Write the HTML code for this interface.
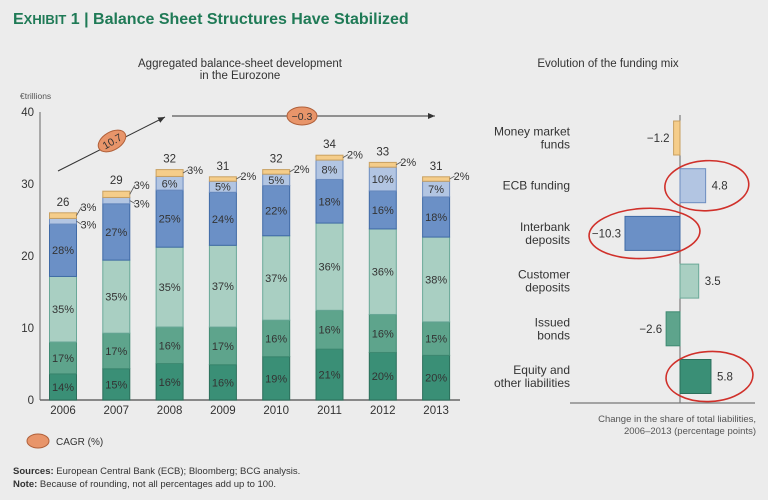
<!DOCTYPE html>
<html><head><meta charset="utf-8"><style>
body{margin:0;background:#ececec;}
svg{display:block;font-family:"Liberation Sans",sans-serif;}
</style></head><body>
<svg id="s" width="768" height="500" viewBox="0 0 768 500">
<rect width="768" height="500" fill="#ececec"/>
<text x="13" y="24" font-size="16" font-weight="bold" fill="#1f7a56"><tspan font-size="16">E</tspan><tspan font-size="13">XHIBIT</tspan> 1 | Balance Sheet Structures Have Stabilized</text>
<text x="240" y="67" font-size="11.5" fill="#333" text-anchor="middle">Aggregated balance-sheet development</text>
<text x="240" y="79" font-size="11.5" fill="#333" text-anchor="middle">in the Eurozone</text>
<text x="608" y="67" font-size="11.5" fill="#333" text-anchor="middle">Evolution of the funding mix</text>
<text x="20" y="99" font-size="8.5" fill="#555">€trillions</text>
<g id="left"></g><g id="right"></g>
<ellipse cx="38" cy="441" rx="11" ry="7" fill="#e8956a" stroke="#b0603a"/>
<text x="56" y="445" font-size="10" fill="#333">CAGR (%)</text>
<text x="13" y="474" font-size="9.5" fill="#333"><tspan font-weight="bold">Sources:</tspan> European Central Bank (ECB); Bloomberg; BCG analysis.</text>
<text x="13" y="487" font-size="9.5" fill="#333"><tspan font-weight="bold">Note:</tspan> Because of rounding, not all percentages add up to 100.</text>
</svg>
<script>
const years=["2006","2007","2008","2009","2010","2011","2012","2013"];
const totals=[26,29,32,31,32,34,33,31];
const equity=[14,15,16,16,19,21,20,20];
const bonds=[17,17,16,17,16,16,16,15];
const customer=[35,35,35,37,37,36,36,38];
const interbank=[28,27,25,24,22,18,16,18];
const ecb=[3,3,6,5,5,8,10,7];
const mmf=[3,3,3,2,2,2,2,2];
const yTicks=[0,10,20,30,40];
const mixCats=[["Money market","funds"],["ECB funding"],["Interbank","deposits"],["Customer","deposits"],["Issued","bonds"],["Equity and","other liabilities"]];
const mixVals=[-1.2,4.8,-10.3,3.5,-2.6,5.8];
const mixLabels=["−1.2","4.8","−10.3","3.5","−2.6","5.8"];
const circled=[false,true,true,false,false,true];

const NS="http://www.w3.org/2000/svg";
function mk(tag,attrs,parent,txt){const e=document.createElementNS(NS,tag);for(const k in attrs)e.setAttribute(k,attrs[k]);if(txt!=null)e.textContent=txt;parent.appendChild(e);return e;}
const colors=["#3a8f76","#5ea48c","#a9cfc2","#6b90c6","#b2c5e2","#f5cd8a"];
const strokes=["#2b6f5b","#3f8a72","#6aa898","#3f6aa6","#6d8dc0","#c9a060"];
const L=document.getElementById('left');
const y=v=>400-v*7.2;
const x=i=>63+i*53.3;
const ax=mk('line',{x1:40,y1:112,x2:40,y2:400,stroke:'#666','stroke-width':1},L);

const bx=mk('line',{x1:40,y1:400,x2:460,y2:400,stroke:'#666','stroke-width':1.5},L);

yTicks.forEach(t=>{const e=mk('text',{x:34,y:y(t)+4,'font-size':11.5,'text-anchor':'end',fill:'#333'},L,t);
});
const series=[equity,bonds,customer,interbank,ecb,mmf];
const names=['equity','bonds','customer','interbank','ecb','mmf'];
years.forEach((yr,i)=>{
  const tot=totals[i];let sum=0;series.forEach(s=>sum+=s[i]);
  let acc=0;const cx=x(i),w=27;
  series.forEach((s,k)=>{
    const v=s[i]/sum*tot;const y0=y(acc),y1=y(acc+v);acc+=v;
    const r=mk('rect',{x:cx-w/2,y:y1,width:w,height:y0-y1,fill:colors[k],stroke:strokes[k],'stroke-width':1},L);
    
    let lab;
    if(k<4||(k==4&&s[i]>=5)){lab=mk('text',{x:cx,y:(y0+y1)/2+4,'font-size':11,'text-anchor':'middle',fill:'#333'},L,s[i]+'%');}
    else{const ty=(k==5&&i<2)?(y0+y1)/2-4:(y0+y1)/2+(i<2?4:-1);
      const ly=(i<2)?(k==4?y1+9:y1-3):ty+1;
      mk('line',{x1:cx+w/2,y1:(y0+y1)/2,x2:cx+w/2+5,y2:ly-3,stroke:'#555','stroke-width':0.8},L);
      lab=mk('text',{x:cx+w/2+4,y:ly+1,'font-size':11,fill:'#333'},L,s[i]+'%');}
    
  });
  const tl=mk('text',{x:cx,y:y(tot)-7,'font-size':11.5,'text-anchor':'middle',fill:'#333'},L,tot);
  
  const xl=mk('text',{x:cx,y:414,'font-size':11.5,'text-anchor':'middle',fill:'#333'},L,yr);
  
});
const defs=mk('defs',{},L);const m=mk('marker',{id:'ar',markerWidth:8,markerHeight:8,refX:7,refY:4,orient:'auto'},defs);
mk('path',{d:'M0,1 L7,4 L0,7 Z',fill:'#333'},m);
const a1=mk('line',{x1:58,y1:171,x2:165,y2:117,stroke:'#333','stroke-width':1,'marker-end':'url(#ar)'},L);

const a2=mk('line',{x1:172,y1:116,x2:435,y2:116,stroke:'#333','stroke-width':1,'marker-end':'url(#ar)'},L);

const e1=mk('ellipse',{cx:112,cy:141,rx:15,ry:9,fill:'#e8956a',stroke:'#b0603a',transform:'rotate(-30 112 141)'},L);

mk('text',{x:112,y:145,'font-size':10.5,'text-anchor':'middle',fill:'#333',transform:'rotate(-30 112 141)'},L,'10.7');
const e2=mk('ellipse',{cx:302,cy:116,rx:15,ry:9,fill:'#e8956a',stroke:'#b0603a'},L);

mk('text',{x:302,y:120,'font-size':10.5,'text-anchor':'middle',fill:'#333'},L,'−0.3');
const R=document.getElementById('right');
const zx=680,sc=5.34;const rowY=i=>138+i*47.7;
const zl=mk('line',{x1:zx,y1:115,x2:zx,y2:403,stroke:'#666','stroke-width':1},R);

const bl=mk('line',{x1:570,y1:403,x2:755,y2:403,stroke:'#777','stroke-width':1.2},R);

const rc=[5,4,3,2,1,0];
mixVals.forEach((v,i)=>{
  const cy=rowY(i),h=34,bx0=v<0?zx+v*sc:zx,bw=Math.abs(v)*sc;
  const r=mk('rect',{x:bx0,y:cy-h/2,width:bw,height:h,fill:colors[rc[i]],stroke:strokes[rc[i]],'stroke-width':1},R);
  
  const lx=v<0?bx0-4:bx0+bw+6;
  const t=mk('text',{x:lx,y:cy+4,'font-size':11.5,'text-anchor':v<0?'end':'start',fill:'#333'},R,mixLabels[i]);
  
  const c=mixCats[i];
  c.forEach((ln,j)=>{const ct=mk('text',{x:570,y:cy+4+(j-(c.length-1)/2)*13,'font-size':12,'text-anchor':'end',fill:'#333'},R,ln);
  });
  if(circled[i]){const ccx=v<0?zx+v*sc/2-8:zx+bw/2+14;const rx=Math.max(bw/2+28,42);
    const el=mk('ellipse',{cx:ccx,cy:cy,rx:rx,ry:h/2+8,fill:'none',stroke:'#d0302a','stroke-width':1.6,transform:'rotate(-3 '+ccx+' '+cy+')'},R);
    }
});
mk('text',{x:756,y:422,'font-size':9.5,'text-anchor':'end',fill:'#555'},R,'Change in the share of total liabilities,');
mk('text',{x:756,y:434,'font-size':9.5,'text-anchor':'end',fill:'#555'},R,'2006–2013 (percentage points)');
</script>
</body></html>
